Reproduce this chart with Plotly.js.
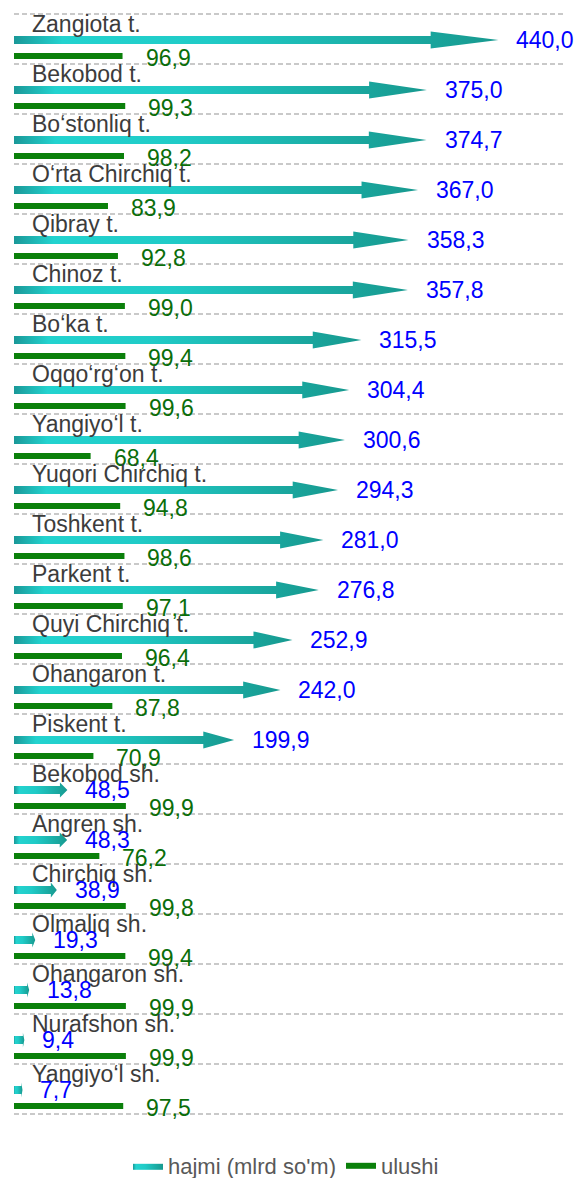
<!DOCTYPE html>
<html>
<head>
<meta charset="utf-8">
<script src="https://cdn.plot.ly/plotly-3.0.1.min.js"></script>
<style>html,body{margin:0;padding:0;background:#fff;}</style>
</head>
<body>
<div id="chart" style="width:578px;height:1178px;"></div>
<script>
const categories = ["Zangiota t.", "Bekobod t.", "Bo‘stonliq t.", "O‘rta Chirchiq t.", "Qibray t.", "Chinoz t.", "Bo‘ka t.", "Oqqo‘rg‘on t.", "Yangiyo‘l t.", "Yuqori Chirchiq t.", "Toshkent t.", "Parkent t.", "Quyi Chirchiq t.", "Ohangaron t.", "Piskent t.", "Bekobod sh.", "Angren sh.", "Chirchiq sh.", "Olmaliq sh.", "Ohangaron sh.", "Nurafshon sh.", "Yangiyo‘l sh."];
const hajmi = [440.0, 375.0, 374.7, 367.0, 358.3, 357.8, 315.5, 304.4, 300.6, 294.3, 281.0, 276.8, 252.9, 242.0, 199.9, 48.5, 48.3, 38.9, 19.3, 13.8, 9.4, 7.7];
const ulushi = [96.9, 99.3, 98.2, 83.9, 92.8, 99.0, 99.4, 99.6, 68.4, 94.8, 98.6, 97.1, 96.4, 87.8, 70.9, 99.9, 76.2, 99.8, 99.4, 99.9, 99.9, 97.5];
const seriesNames = ["hajmi (mlrd so'm)", "ulushi"];

const fmt = v => v.toFixed(1).replace('.', ',');
const FONT = "Arial, 'Liberation Sans', sans-serif";

const n = categories.length;
const OFF = 1; // band i spans [i+OFF, i+OFF+1] on the y axis
const traces = [];

// arrows (hajmi)
const ARROW_C = 0.52, SHAFT = 0.08, HEAD = 0.17, HEADFRAC = 0.14;
hajmi.forEach((v, i) => {
  const c = i + OFF + ARROW_C;
  const h = v * HEADFRAC;
  const hh = v < 100 ? 0.15 : HEAD;
  traces.push({
    type: 'scatter', mode: 'lines', xaxis: 'x', yaxis: 'y',
    x: [0, v - h, v - h, v, v - h, v - h, 0, 0],
    y: [c - SHAFT, c - SHAFT, c - hh, c, c + hh, c + SHAFT, c + SHAFT, c - SHAFT],
    fill: 'toself',
    line: {width: 0, color: '#1aa8a4'},
    fillcolor: '#1fc4c0',
    fillgradient: {type: 'horizontal', colorscale: [[0, '#1a9898'], [0.1, '#23d3cf'], [0.4, '#20cbc7'], [1, '#17998f']]},
    name: seriesNames[0], legendgroup: 'hajmi', showlegend: i === 0,
    hoverinfo: 'skip'
  });
});

// green bars (ulushi) as thick line segments
const gx = [], gy = [];
ulushi.forEach((u, i) => {
  gx.push(0, u, null);
  gy.push(i + OFF + 0.84, i + OFF + 0.84, null);
});
traces.push({
  type: 'scatter', mode: 'lines', xaxis: 'x2', yaxis: 'y',
  x: gx, y: gy, line: {color: '#0b800b', width: 6},
  name: seriesNames[1], showlegend: true, hoverinfo: 'skip'
});

const annotations = [];
categories.forEach((cat, i) => {
  annotations.push({
    xref: 'paper', yref: 'y', x: 16 / 550, y: i + OFF + 0.2, xanchor: 'left', yanchor: 'middle',
    text: cat, showarrow: false, font: {family: FONT, size: 23, color: '#3c3c3c'}
  });
  annotations.push({
    xref: 'x', yref: 'y', x: hajmi[i], y: i + OFF + ARROW_C, xanchor: 'left', yanchor: 'middle',
    xshift: 16, text: fmt(hajmi[i]), showarrow: false, font: {family: FONT, size: 23, color: '#0000ff'}
  });
  annotations.push({
    xref: 'x2', yref: 'y', x: ulushi[i], y: i + OFF + 0.88, xanchor: 'left', yanchor: 'middle',
    xshift: 21, text: fmt(ulushi[i]), showarrow: false, font: {family: FONT, size: 23, color: '#0a6e0a'}
  });
});

const ticks = [];
for (let k = 0; k <= n; k++) ticks.push(k + OFF);

const layout = {
  width: 578, height: 1178,
  margin: {l: 14, r: 14, t: 4, b: 62},
  paper_bgcolor: '#ffffff', plot_bgcolor: '#ffffff',
  hovermode: false,
  xaxis: {range: [0, 499.5], showgrid: false, zeroline: false, showticklabels: false, ticks: '', fixedrange: true},
  xaxis2: {range: [0, 491], overlaying: 'x', side: 'bottom', showgrid: false, zeroline: false, showticklabels: false, ticks: '', fixedrange: true},
  yaxis: {range: [n + OFF + 0.04, OFF - 0.2], tickmode: 'array', tickvals: ticks, showticklabels: false, ticks: '',
          showgrid: true, gridcolor: '#c9c9c9', gridwidth: 2, griddash: '5px,3px', zeroline: false, fixedrange: true},
  showlegend: true,
  legend: {orientation: 'h', xref: 'container', yref: 'container', x: 128 / 578, xanchor: 'left',
           y: 1 - 1166 / 1178, yanchor: 'middle',
           font: {family: FONT, size: 22, color: '#595959'}, bgcolor: 'rgba(0,0,0,0)', traceorder: 'normal'},
  annotations: annotations
};

Plotly.newPlot('chart', traces, layout, {displayModeBar: false, staticPlot: true});
</script>
</body>
</html>
